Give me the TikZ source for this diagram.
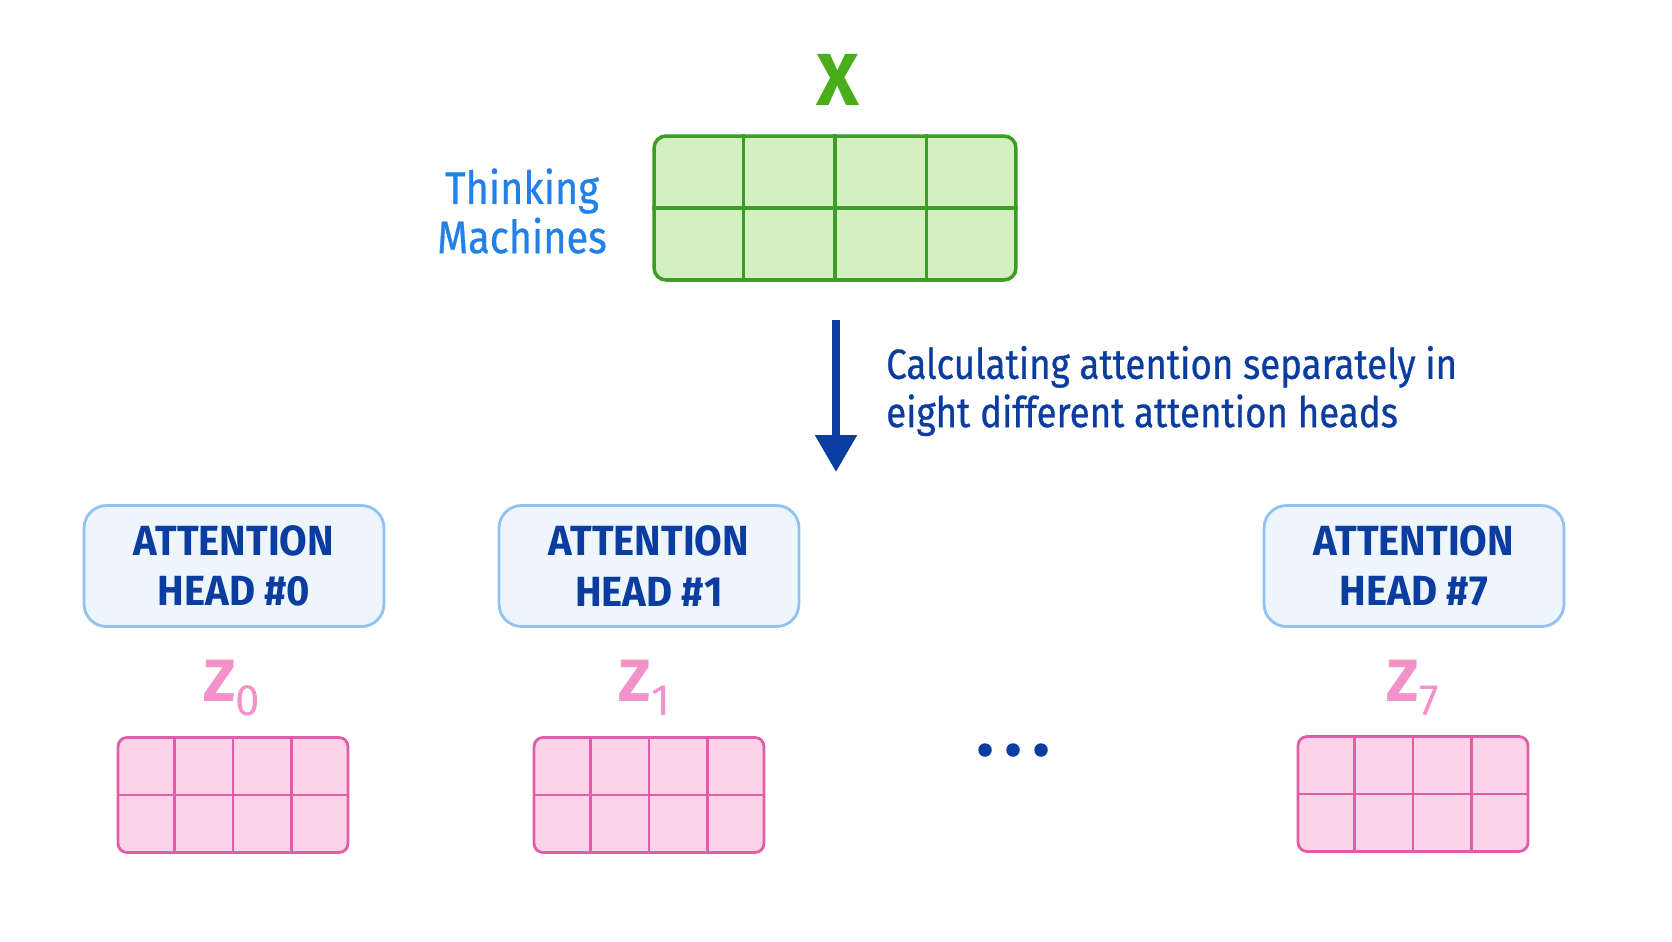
\documentclass[tikz,border=0pt]{standalone}
\usepackage{fontspec}
\setmainfont{Fira Sans}
\newfontfamily\narrowfont[FakeStretch=0.87,FakeBold=0.6]{Fira Sans}
\newfontfamily\headfont[FakeStretch=0.95]{Fira Sans}
\usetikzlibrary{arrows.meta,calc}

\definecolor{gridgreen}{HTML}{3C9E26}
\definecolor{fillgreen}{HTML}{D2F0C0}
\definecolor{xgreen}{HTML}{4AAE1C}
\definecolor{tmblue}{HTML}{2280E6}
\definecolor{darkblue}{HTML}{0B3C9F}
\definecolor{headfill}{HTML}{EEF5FD}
\definecolor{headline}{HTML}{92C2F2}
\definecolor{gridpink}{HTML}{E05EA8}
\definecolor{fillpink}{HTML}{FDD3EA}
\definecolor{zpink}{HTML}{F392C8}

\tikzset{
  xgrid/.style={draw=gridgreen, fill=fillgreen, line width=2pt, rounded corners=0.24cm,
    minimum width=7.24cm, minimum height=2.88cm, inner sep=0pt},
  zgrid/.style={draw=gridpink, fill=fillpink, line width=1.6pt, rounded corners=0.18cm,
    minimum width=4.6cm, minimum height=2.3cm, inner sep=0pt},
  headbox/.style={draw=headline, fill=headfill, line width=1.6pt, rounded corners=0.45cm,
    minimum width=6cm, minimum height=2.42cm, align=center, text=darkblue,
    font=\headfont\fontsize{24}{28.5}\selectfont\bfseries},
  zlabel/.style={text=zpink, font=\fontsize{34}{36}\selectfont\bfseries},
  dot/.style={circle, fill=darkblue, minimum size=0.27cm, inner sep=0pt},
}

% inner lines of a 2x4 grid
\newcommand{\cells}[2]{%
  \foreach \i in {1,2,3}
    {\draw[#2] ($(#1.north west)!\i/4!(#1.north east)$) -- ($(#1.south west)!\i/4!(#1.south east)$);}
  \draw[#2] (#1.west) -- (#1.east);
}

\begin{document}
\begin{tikzpicture}[x=0.02cm,y=-0.02cm]
  \useasboundingbox[fill=white] (0,0) rectangle (1672,941);

  \node[text=xgreen, font=\fontsize{42}{44}\selectfont\bfseries] (X) at (838,80) {X};
  \node[xgrid] (xg) at (835,208) {};
  \cells{xg}{gridgreen, line width=2pt}
  \node[text=tmblue, align=center, font=\narrowfont\fontsize{26}{28}\selectfont] (tm) at (522,211) {Thinking\\Machines};

  \coordinate (split) at (836,472);
  \draw[darkblue, line width=4.8pt, -{Triangle[width=0.8cm,length=0.74cm]}, shorten <=0.76cm]
    (xg.south -| split) -- (split);
  \node[anchor=west, text=darkblue, align=left, font=\narrowfont\fontsize{24}{27.5}\selectfont] (desc) at (880,391)
    {Calculating attention separately in\\eight different attention heads};

  \node[headbox] (h0) at (234,566) {ATTENTION\\HEAD \#0};
  \node[headbox] (h1) at (649,566) {ATTENTION\\HEAD \#1};
  \node[headbox] (h7) at (1414,566) {ATTENTION\\HEAD \#7};

  \node[zlabel] (z0) at (232,688) {Z\textsubscript{\normalfont\fontsize{25}{25}\selectfont 0}};
  \node[zlabel] (z1) at (645,688) {Z\textsubscript{\normalfont\fontsize{25}{25}\selectfont 1}};
  \node[zlabel] (z7) at (1413,688) {Z\textsubscript{\normalfont\fontsize{25}{25}\selectfont 7}};

  \node[zgrid] (zg0) at (233,795) {};
  \node[zgrid] (zg1) at (649,795) {};
  \node[zgrid] (zg7) at (1413,794) {};
  \foreach \g in {zg0,zg1,zg7}
    {\cells{\g}{gridpink, line width=1.6pt}}

  \node[dot] (d1) at (985,750) {};
  \node[dot] (d2) at (1013,750) {};
  \node[dot] (d3) at (1041,750) {};
\end{tikzpicture}
\end{document}
